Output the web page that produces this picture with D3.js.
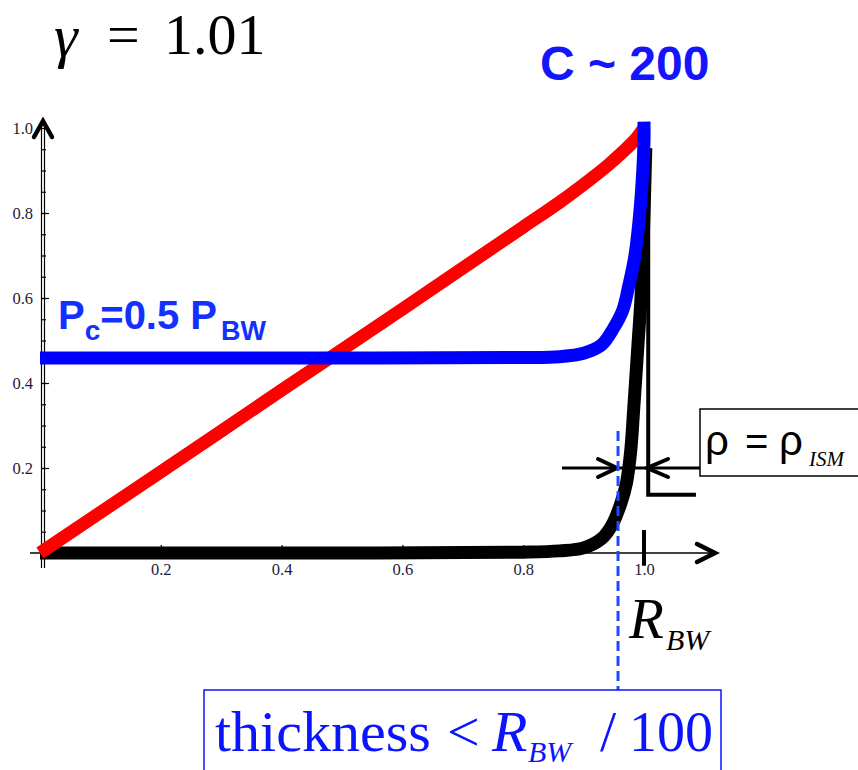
<!DOCTYPE html>
<html>
<head>
<meta charset="utf-8">
<script src="https://cdn.jsdelivr.net/npm/d3@7"></script>
<style>
  html, body { margin: 0; padding: 0; background: #fff; }
  svg { display: block; }
</style>
</head>
<body>
<svg id="chart" width="858" height="770"></svg>
<script>
// Normalised radius r / R_BW for each profile, and the profile values.
const velocityR   = [0, 0.2, 0.4, 0.6, 0.8, 0.86, 0.91, 0.94, 0.965, 0.985, 1.0];
const velocityV   = [0, 0.191, 0.383, 0.574, 0.767, 0.825, 0.878, 0.912, 0.944, 0.972, 1.0];

const pressureR   = [0, 0.5, 0.8, 0.86, 0.9, 0.93, 0.95, 0.965, 0.975, 0.985, 0.993, 0.998, 1.0, 1.0];
const pressureV   = [0.459, 0.459, 0.46, 0.462, 0.47, 0.49, 0.53, 0.572, 0.63, 0.7, 0.8, 0.9, 0.97, 1.015];

const densityR    = [0, 0.5, 0.8, 0.86, 0.9, 0.93, 0.947, 0.962, 0.971, 0.978, 0.983, 0.99, 0.995, 0.999, 1.003];
const densityV    = [0, 0, 0.002, 0.005, 0.012, 0.034, 0.066, 0.118, 0.165, 0.24, 0.34, 0.49, 0.6, 0.75, 0.953];

// Density outside the bubble: drop at R_BW to the ambient value.
const ismR        = [1.007, 1.007, 1.086];
const ismV        = [0.953, 0.137, 0.137];

const yTicks      = [0.2, 0.4, 0.6, 0.8, 1.0];
const xTicks      = [0.2, 0.4, 0.6, 0.8, 1.0];
const minorTicks  = d3.range(1, 20).map(i => i * 0.05);

const shellInner  = 0.957;   // inner edge of the dense shell
const arrowLevel  = 0.2;     // height of the thickness arrows

const svg = d3.select("#chart");
const x = d3.scaleLinear().domain([0, 1]).range([40, 644]);
const y = d3.scaleLinear().domain([0, 1]).range([553, 128]);

const serif = "'Liberation Serif', 'Times New Roman', serif";
const sans  = "'Liberation Sans', Arial, sans-serif";
const labelColor = "#1c1c3a";

// ---- axes ----
const gy = svg.append("g").attr("transform", `translate(${x(0) + 2},0)`);
gy.call(d3.axisLeft(y).tickValues(minorTicks).tickSizeInner(-4).tickSizeOuter(0).tickFormat(""));
gy.call(g => g.select(".domain").remove());
const gyMajor = svg.append("g").attr("transform", `translate(${x(0) + 2},0)`);
gyMajor.call(d3.axisLeft(y).tickValues(yTicks).tickSizeInner(-7).tickSizeOuter(0)
  .tickPadding(9).tickFormat(d3.format(".1f")));
gyMajor.select(".domain").remove();
gyMajor.selectAll("text").attr("font-family", serif).attr("font-size", 16.5).attr("fill", labelColor);
svg.selectAll(".tick line").attr("stroke", "#000").attr("stroke-width", 1.2);

// double vertical axis line
[x(0) + 1.5, x(0) + 4.5].forEach(px => {
  svg.append("line").attr("x1", px).attr("x2", px).attr("y1", 121).attr("y2", 568)
    .attr("stroke", "#000").attr("stroke-width", 1.2);
});

const gx = svg.append("g").attr("transform", `translate(0,${y(0)})`);
gx.call(d3.axisBottom(x).tickValues(xTicks).tickSizeInner(-8).tickSizeOuter(0)
  .tickPadding(10).tickFormat(d3.format(".1f")));
gx.select(".domain").remove();
gx.selectAll("text").attr("font-family", serif).attr("font-size", 16.5).attr("fill", labelColor);
gx.selectAll(".tick line").attr("stroke", "#000").attr("stroke-width", 1.2);

svg.append("line").attr("x1", 30).attr("x2", 716).attr("y1", y(0)).attr("y2", y(0))
  .attr("stroke", "#000").attr("stroke-width", 1.5);

// arrowheads
svg.append("path")
  .attr("d", `M${x(0) + 3 - 9},${137} L${x(0) + 3},${121} L${x(0) + 3 + 9},${137}`)
  .attr("fill", "none").attr("stroke", "#000").attr("stroke-width", 4.5)
  .attr("stroke-linecap", "round").attr("stroke-linejoin", "miter");
svg.append("path")
  .attr("d", `M${697},${y(0) - 9} L${715},${y(0)} L${697},${y(0) + 9}`)
  .attr("fill", "none").attr("stroke", "#000").attr("stroke-width", 4.5)
  .attr("stroke-linecap", "round").attr("stroke-linejoin", "miter");

// ---- profiles ----
const line = d3.line().x(d => x(d[0])).y(d => y(d[1])).curve(d3.curveCatmullRom.alpha(0.5));

svg.append("path")
  .datum(densityR.map((r, i) => [r, densityV[i]]))
  .attr("d", line)
  .attr("fill", "none").attr("stroke", "#000").attr("stroke-width", 13)
  .attr("stroke-linejoin", "round");

svg.append("path")
  .datum(velocityR.map((r, i) => [r, velocityV[i]]))
  .attr("d", line)
  .attr("fill", "none").attr("stroke", "#ff0000").attr("stroke-width", 13)
  .attr("stroke-linejoin", "round");

svg.append("path")
  .datum(ismR.map((r, i) => [r, ismV[i]]))
  .attr("d", d3.line().x(d => x(d[0])).y(d => y(d[1])))
  .attr("fill", "none").attr("stroke", "#000").attr("stroke-width", 4);

svg.append("path")
  .datum(pressureR.map((r, i) => [r, pressureV[i]]))
  .attr("d", line)
  .attr("fill", "none").attr("stroke", "#0000ff").attr("stroke-width", 13)
  .attr("stroke-linejoin", "round");

// R_BW marker on the x axis
svg.append("line").attr("x1", x(1)).attr("x2", x(1)).attr("y1", y(0.054)).attr("y2", y(-0.03))
  .attr("stroke", "#000").attr("stroke-width", 4);

// ---- shell thickness annotation ----
svg.append("line")
  .attr("x1", 562).attr("x2", 700).attr("y1", y(arrowLevel)).attr("y2", y(arrowLevel))
  .attr("stroke", "#000").attr("stroke-width", 3);
const tipL = x(shellInner) - 1, tipR = x(1) + 3;
svg.append("path")
  .attr("d", `M${tipL - 19},${y(arrowLevel) - 9} L${tipL},${y(arrowLevel)} L${tipL - 19},${y(arrowLevel) + 9}`)
  .attr("fill", "none").attr("stroke", "#000").attr("stroke-width", 4).attr("stroke-linecap", "round");
svg.append("path")
  .attr("d", `M${tipR + 21},${y(arrowLevel) - 9} L${tipR},${y(arrowLevel)} L${tipR + 21},${y(arrowLevel) + 9}`)
  .attr("fill", "none").attr("stroke", "#000").attr("stroke-width", 4).attr("stroke-linecap", "round");

svg.append("line")
  .attr("x1", x(shellInner)).attr("x2", x(shellInner)).attr("y1", 431).attr("y2", 690)
  .attr("stroke", "#1a4cff").attr("stroke-width", 3).attr("stroke-dasharray", "10,5");

// rho box
svg.append("rect").attr("x", 700).attr("y", 409).attr("width", 170).attr("height", 67)
  .attr("fill", "#fff").attr("stroke", "#000").attr("stroke-width", 1.5);
svg.append("text").attr("x", 705).attr("y", 455).attr("font-family", sans).attr("font-size", 42)
  .text("ρ");
svg.append("text").attr("x", 745).attr("y", 455).attr("font-family", sans).attr("font-size", 40)
  .text("=");
svg.append("text").attr("x", 779).attr("y", 455).attr("font-family", sans).attr("font-size", 42)
  .text("ρ");
svg.append("text").attr("x", 809).attr("y", 466).attr("font-family", serif).attr("font-style", "italic")
  .attr("font-size", 21).text("ISM");

// R_BW label
svg.append("text").attr("x", 629).attr("y", 638).attr("font-family", serif).attr("font-style", "italic")
  .attr("font-size", 57).text("R");
svg.append("text").attr("x", 666).attr("y", 650).attr("font-family", serif).attr("font-style", "italic")
  .attr("font-size", 30).text("BW");

// thickness box
const boxBlue = "#0a14ff";
svg.append("rect").attr("x", 204).attr("y", 690).attr("width", 517).attr("height", 120)
  .attr("fill", "none").attr("stroke", boxBlue).attr("stroke-width", 1.5);
const tb = svg.append("g").attr("fill", boxBlue).attr("font-family", serif);
tb.append("text").attr("x", 215).attr("y", 751).attr("font-size", 58).text("thickness");
tb.append("text").attr("x", 447).attr("y", 751).attr("font-size", 58).text("<");
tb.append("text").attr("x", 492).attr("y", 751).attr("font-size", 58).attr("font-style", "italic").text("R");
tb.append("text").attr("x", 528).attr("y", 762).attr("font-size", 30).attr("font-style", "italic").text("BW");
tb.append("text").attr("x", 600).attr("y", 751).attr("font-size", 58).text("/");
tb.append("text").attr("x", 629).attr("y", 751).attr("font-size", 56).text("100");

// titles
svg.append("text").attr("x", 54).attr("y", 56).attr("font-family", serif).attr("font-style", "italic")
  .attr("font-size", 60).text("γ");
svg.append("text").attr("x", 107).attr("y", 54).attr("font-family", serif)
  .attr("font-size", 58).text("=");
svg.append("text").attr("x", 164).attr("y", 54).attr("font-family", serif)
  .attr("font-size", 58).text("1.01");

svg.append("text").attr("x", 540).attr("y", 80).attr("font-family", sans).attr("font-weight", "bold")
  .attr("font-size", 48).attr("fill", "#1414ff").text("C ~ 200");

const pc = svg.append("text").attr("x", 58).attr("y", 329).attr("font-family", sans)
  .attr("font-weight", "bold").attr("fill", "#1430ff");
pc.append("tspan").attr("font-size", 40).text("P");
pc.append("tspan").attr("font-size", 28).attr("dy", 11).text("c");
pc.append("tspan").attr("font-size", 40).attr("dy", -11).text("=0.5 P");
pc.append("tspan").attr("font-size", 27).attr("dy", 11).attr("dx", 4).text("BW");
</script>
</body>
</html>
